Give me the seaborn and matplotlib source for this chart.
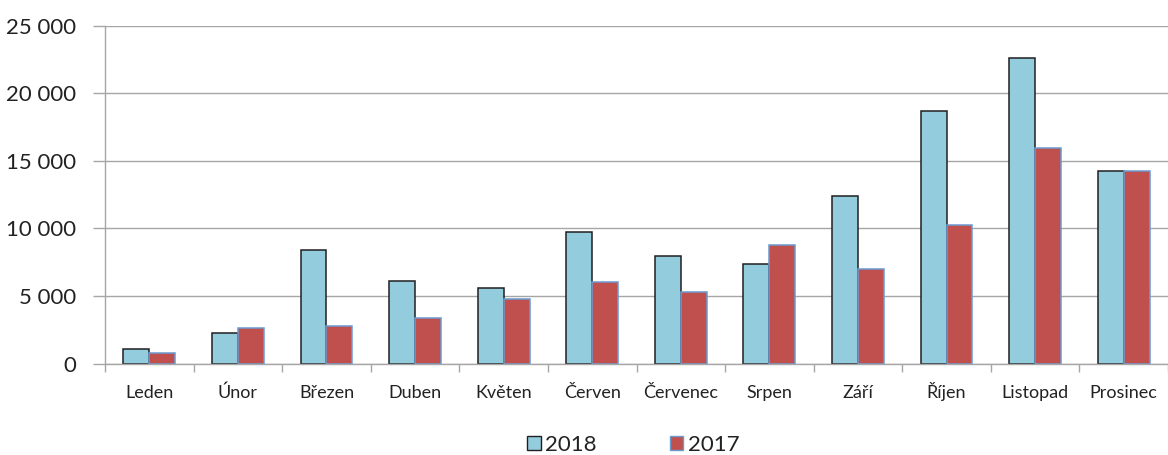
import matplotlib
matplotlib.use("Agg")
import matplotlib.pyplot as plt
import seaborn as sns
import pandas as pd
from matplotlib.ticker import FuncFormatter, MultipleLocator, FixedLocator

months = ["Leden", "Únor", "Březen", "Duben", "Květen", "Červen",
          "Červenec", "Srpen", "Září", "Říjen", "Listopad", "Prosinec"]
values_2018 = [1080, 2270, 8400, 6140, 5580, 9760, 7940, 7400, 12430, 18690, 22590, 14250]
values_2017 = [810, 2660, 2810, 3400, 4760, 6040, 5300, 8800, 7030, 10260, 15930, 14260]
series = ["2018", "2017"]

df = pd.DataFrame({
    "month": months * 2,
    "value": values_2018 + values_2017,
    "year": [series[0]] * len(months) + [series[1]] * len(months),
})

sns.set_theme(style="white")
plt.rcParams["font.family"] = ["Lato", "DejaVu Sans"]

W, H = 1168, 455
fig = plt.figure(figsize=(W / 100, H / 100), dpi=100)
left, right, top, bottom = 105, 1168, 25.7, 363.7
ax = fig.add_axes([left / W, (H - bottom) / H, (right - left) / W, (bottom - top) / H])

colors = {"2018": "#93CDDD", "2017": "#C0504D"}
edges = {"2018": "#1f1f1f", "2017": "#6A9AD0"}

sns.barplot(data=df, x="month", y="value", hue="year", hue_order=series,
            palette=colors, width=0.585, gap=0, ax=ax, legend=True,
            saturation=1, linewidth=1.1)
for cont, s in zip(ax.containers, series):
    for p in cont.patches:
        p.set_edgecolor(edges[s])
        p.set_linewidth(1.1)

ax.set_ylim(0, 25000)
ax.set_xlim(-0.5, len(months) - 0.5)
ax.yaxis.set_major_locator(MultipleLocator(5000))
ax.yaxis.set_major_formatter(FuncFormatter(lambda v, p: f"{int(v):,}".replace(",", " ")))
ax.grid(axis="y", color="#A6A6A6", linewidth=1.0)
ax.set_axisbelow(True)
ax.set_xlabel("")
ax.set_ylabel("")

for sp in ["top", "right"]:
    ax.spines[sp].set_visible(False)
for sp in ["left", "bottom"]:
    ax.spines[sp].set_color("#A6A6A6")
    ax.spines[sp].set_linewidth(1.0)

ax.tick_params(axis="y", which="major", length=9, width=1.0, color="#A6A6A6",
               direction="out", labelsize=16, labelcolor="#222222", pad=12, left=True)
ax.set_xticks(range(len(months)))
ax.set_xticklabels(months, va="baseline")
ax.tick_params(axis="x", which="major", length=0, labelsize=13, labelcolor="#222222", pad=24.5)
ax.xaxis.set_minor_locator(FixedLocator([i - 0.5 for i in range(len(months) + 1)]))
ax.tick_params(axis="x", which="minor", length=6, width=1.0, color="#A6A6A6",
               direction="out", bottom=True)

handles, labels = ax.get_legend_handles_labels()
for h, s in zip(handles, series):
    h.set_edgecolor(edges[s])
    h.set_linewidth(1.0)
ax.legend(handles, labels, loc="center", bbox_to_anchor=(0.497, -0.24), ncol=2,
          frameon=False, fontsize=16, handlelength=0.6, handleheight=0.6,
          handletextpad=0.2, columnspacing=3.3, labelcolor="#222222")

fig.savefig("out.png", dpi=100)
